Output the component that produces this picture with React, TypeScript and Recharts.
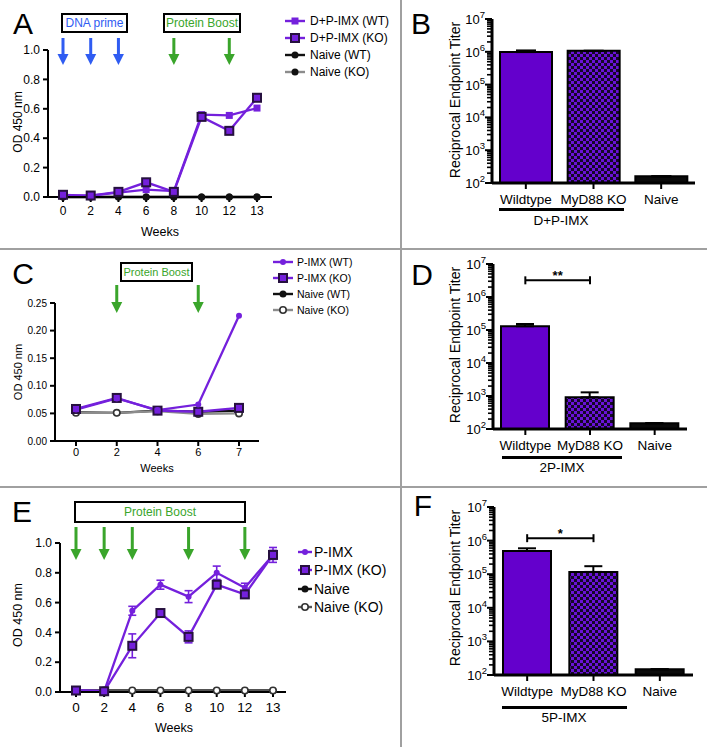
import React from 'react'
import { LineChart, Line, BarChart, Bar, Cell, XAxis, YAxis, ErrorBar, ReferenceDot, ReferenceLine } from 'recharts'

const FONT = '"Liberation Sans", Arial, Helvetica, sans-serif'
const PURPLE = '#7420dc'
const BAR_PURPLE = '#6400cc'
const DARK = '#26103f'
const GRAY = '#8c8c8c'
const BLUE = '#2f5cf2'
const GREEN = '#3aa52b'

// ---- A: D+P-IMX time course
const WEEKS_A = ['0', '2', '4', '6', '8', '10', '12', '13']
const A_DP_WT = [0.01, 0.01, 0.03, 0.05, 0.04, 0.56, 0.555, 0.605]
const A_DP_KO = [0.015, 0.01, 0.035, 0.1, 0.035, 0.545, 0.45, 0.675]
const A_NAIVE_WT = [0, 0, 0, 0, 0, 0, 0, 0]
const A_NAIVE_KO = [0, 0, 0, 0, 0, 0, 0, 0]
const A_PRIME_WEEKS = ['0', '2', '4']
const A_BOOST_WEEKS = ['8', '12']

// ---- C: P-IMX time course
const WEEKS_C = ['0', '2', '4', '6', '7']
const C_P_WT = [0.057, 0.077, 0.056, 0.066, 0.227]
const C_P_KO = [0.058, 0.078, 0.055, 0.053, 0.06]
const C_NAIVE_WT = [0.052, 0.051, 0.055, 0.053, 0.055]
const C_NAIVE_KO = [0.051, 0.051, 0.054, 0.049, 0.05]
const C_BOOST_WEEKS = ['2', '6']

// ---- E: 5x P-IMX time course
const WEEKS_E = ['0', '2', '4', '6', '8', '10', '12', '13']
const E_P_WT = [0.01, 0.005, 0.545, 0.72, 0.64, 0.8, 0.7, 0.92]
const E_P_WT_ERR = [0, 0, 0.03, 0.03, 0.04, 0.045, 0.03, 0.05]
const E_P_KO = [0.01, 0.005, 0.31, 0.53, 0.37, 0.72, 0.655, 0.92]
const E_P_KO_ERR = [0, 0, 0.08, 0.01, 0.04, 0.02, 0.01, 0.03]
const E_NAIVE_WT = [0.01, 0.01, 0.01, 0.01, 0.01, 0.01, 0.01, 0.01]
const E_NAIVE_KO = [0.01, 0.01, 0.01, 0.01, 0.01, 0.01, 0.01, 0.01]
const E_BOOST_WEEKS = ['0', '2', '4', '8', '12']

// ---- B, D, F: endpoint titers
const GROUPS = ['Wildtype', 'MyD88 KO', 'Naive']
const B_TITER = [9.8e5, 1.07e6, 160]
const B_ERR = [1.2e5, 0, 0]
const D_TITER = [1.3e5, 910, 150]
const D_ERR = [2.2e4, 380, 0]
const F_TITER = [4.9e5, 1.17e5, 148]
const F_ERR = [1e5, 5.6e4, 0]
const LOG_DECADES = [2, 3, 4, 5, 6]
const LOG_MULTS = [1, 2, 3, 4, 5, 6, 7, 8, 9]
const LOG_TICKS = [...LOG_DECADES.flatMap((e) => LOG_MULTS.map((m) => m * 10 ** e)), 1e7]

const BAR_FILLS = [BAR_PURPLE, 'url(#checker)', '#0a0a0a']

type MarkerKind = 'smallSquare' | 'square' | 'circle' | 'black' | 'open'
type Series = { key: string; name: string; line: string; marker: MarkerKind; errKey?: string }

const A_SERIES: Series[] = [
  { key: 'nko', name: 'Naive (KO)', line: GRAY, marker: 'black' },
  { key: 'nwt', name: 'Naive (WT)', line: '#111', marker: 'black' },
  { key: 'wt', name: 'D+P-IMX (WT)', line: PURPLE, marker: 'smallSquare' },
  { key: 'ko', name: 'D+P-IMX (KO)', line: PURPLE, marker: 'square' },
]
const C_SERIES: Series[] = [
  { key: 'nwt', name: 'Naive (WT)', line: '#111', marker: 'black' },
  { key: 'nko', name: 'Naive (KO)', line: GRAY, marker: 'open' },
  { key: 'ko', name: 'P-IMX (KO)', line: PURPLE, marker: 'square' },
  { key: 'wt', name: 'P-IMX (WT)', line: PURPLE, marker: 'circle' },
]
const E_SERIES: Series[] = [
  { key: 'nwt', name: 'Naive', line: '#111', marker: 'black' },
  { key: 'nko', name: 'Naive (KO)', line: '#555', marker: 'open' },
  { key: 'wt', name: 'P-IMX', line: PURPLE, marker: 'circle', errKey: 'wtErr' },
  { key: 'ko', name: 'P-IMX (KO)', line: PURPLE, marker: 'square', errKey: 'koErr' },
]

const legendOrder = (s: Series[]) => ['wt', 'ko', 'nwt', 'nko'].map((k) => s.find((x) => x.key === k) as Series)

function Marker({ kind, cx, cy }: { kind: MarkerKind; cx: number; cy: number }) {
  if (cx == null || cy == null) return null
  switch (kind) {
    case 'smallSquare':
      return <rect x={cx - 3.5} y={cy - 3.5} width={7} height={7} fill={PURPLE} />
    case 'square':
      return <rect x={cx - 4} y={cy - 4} width={8} height={8} fill={PURPLE} stroke={DARK} strokeWidth={2} />
    case 'circle':
      return <circle cx={cx} cy={cy} r={3} fill={PURPLE} />
    case 'black':
      return <circle cx={cx} cy={cy} r={3.5} fill="#111" />
    default:
      return <circle cx={cx} cy={cy} r={3.2} fill="#fff" stroke="#333" strokeWidth={1.6} />
  }
}

function Arrow({ cx, cy, up, down, color }: any) {
  const head = 11
  return (
    <g>
      <rect x={cx - 1.5} y={cy - up} width={3} height={up + down - head + 1} fill={color} />
      <polygon points={`${cx - 5.5},${cy + down - head} ${cx + 5.5},${cy + down - head} ${cx},${cy + down}`} fill={color} />
    </g>
  )
}

type ArrowSet = { weeks: string[]; y: number; up: number; down: number; color: string }

function TimeCourse(props: any) {
  const { width, height, margin, yWidth, padding, rows, series, yDomain, yTicks, digits, xFont, yFont, xTickMargin, arrows } = props
  const axisStroke = { stroke: '#000', strokeWidth: 2 }
  return (
    <LineChart width={width} height={height} data={rows} margin={margin}>
      <XAxis
        dataKey="week"
        type="category"
        scale="point"
        padding={padding}
        height={30}
        interval={0}
        tickSize={5}
        tickMargin={xTickMargin}
        axisLine={axisStroke}
        tickLine={axisStroke}
        tick={{ fill: '#000', fontSize: xFont, fontFamily: FONT }}
      />
      <YAxis
        type="number"
        width={yWidth}
        domain={yDomain}
        ticks={yTicks}
        interval={0}
        tickSize={5}
        tickMargin={3}
        tickFormatter={(v: number) => v.toFixed(digits)}
        axisLine={axisStroke}
        tickLine={axisStroke}
        tick={{ fill: '#000', fontSize: yFont, fontFamily: FONT }}
      />
      {series.map((s: Series) => (
        <Line
          key={s.key}
          dataKey={s.key}
          stroke={s.line}
          strokeWidth={2.3}
          isAnimationActive={false}
          activeDot={false}
          dot={(p: any) => <Marker key={`${s.key}-${p.index}`} kind={s.marker} cx={p.cx} cy={p.cy} />}
        >
          {s.errKey ? <ErrorBar dataKey={s.errKey} width={4} stroke={s.line} strokeWidth={1.6} direction="y" /> : null}
        </Line>
      ))}
      {arrows.flatMap((a: ArrowSet) =>
        a.weeks.map((w) => (
          <ReferenceDot
            key={`${a.color}-${w}`}
            x={w}
            y={a.y}
            r={0}
            ifOverflow="visible"
            shape={(p: any) => <Arrow cx={p.cx} cy={p.cy} up={a.up} down={a.down} color={a.color} />}
          />
        ))
      )}
    </LineChart>
  )
}

function LogTick(props: any) {
  const { x, y, payload } = props
  const exp = Math.log10(payload.value)
  const major = Math.abs(exp - Math.round(exp)) < 1e-6
  return (
    <g>
      <line x1={x - (major ? 7 : 5)} x2={x} y1={y} y2={y} stroke="#000" strokeWidth={major ? 2 : 1.6} />
      {major && (
        <text x={x - 7} y={y + 5} textAnchor="end" fontSize={13} fontFamily={FONT} fill="#000">
          10
          <tspan dy={-6} fontSize={9.5}>
            {Math.round(exp)}
          </tspan>
        </text>
      )}
    </g>
  )
}

function Bracket({ x1, y1, x2, stars }: any) {
  return (
    <g>
      <line x1={x1} y1={y1} x2={x2} y2={y1} stroke="#000" strokeWidth={2} />
      <line x1={x1} y1={y1 - 4} x2={x1} y2={y1 + 4} stroke="#000" strokeWidth={2} />
      <line x1={x2} y1={y1 - 4} x2={x2} y2={y1 + 4} stroke="#000" strokeWidth={2} />
      <text x={(x1 + x2) / 2} y={y1} textAnchor="middle" fontSize={13} fontWeight="bold" fontFamily={FONT} fill="#000">
        {stars}
      </text>
    </g>
  )
}

function TiterBars(props: any) {
  const { width, height, margin, yWidth, rows, barSize, capWidth, bracket } = props
  const axisStroke = { stroke: '#000', strokeWidth: 2 }
  return (
    <BarChart width={width} height={height} data={rows} margin={margin}>
      <XAxis
        dataKey="group"
        height={30}
        interval={0}
        tickSize={6}
        tickMargin={5}
        axisLine={{ stroke: '#000', strokeWidth: 3 }}
        tickLine={axisStroke}
        tick={{ fill: '#000', fontSize: 13.5, fontFamily: FONT }}
      />
      <YAxis
        type="number"
        scale="log"
        domain={[100, 1e7]}
        allowDataOverflow
        ticks={LOG_TICKS}
        interval={0}
        width={yWidth}
        tickSize={0}
        tickMargin={0}
        tickLine={false}
        axisLine={{ stroke: '#000', strokeWidth: 3 }}
        tick={(p: any) => <LogTick {...p} />}
      />
      <Bar dataKey="titer" barSize={barSize} stroke="#000" strokeWidth={2} isAnimationActive={false}>
        {rows.map((r: any, i: number) => (
          <Cell key={r.group} fill={BAR_FILLS[i]} />
        ))}
        <ErrorBar dataKey="err" width={capWidth} stroke="#000" strokeWidth={2} direction="y" />
      </Bar>
      {bracket && (
        <ReferenceLine
          segment={[
            { x: GROUPS[0], y: bracket.y },
            { x: GROUPS[1], y: bracket.y },
          ]}
          ifOverflow="visible"
          shape={(p: any) => <Bracket {...p} stars={bracket.stars} />}
        />
      )}
    </BarChart>
  )
}

function Txt({ x, y, size, color = '#000', rotate, children }: any) {
  return (
    <div
      style={{
        position: 'absolute',
        left: x,
        top: y,
        transform: `translate(-50%, -50%)${rotate ? ` rotate(${rotate}deg)` : ''}`,
        fontSize: size,
        lineHeight: 1,
        color,
        whiteSpace: 'nowrap',
      }}
    >
      {children}
    </div>
  )
}

function Box({ left, top, width, height, size, color, children }: any) {
  return (
    <div
      style={{
        position: 'absolute',
        left,
        top,
        width,
        height,
        boxSizing: 'border-box',
        border: '2px solid #000',
        display: 'flex',
        alignItems: 'center',
        justifyContent: 'center',
        fontSize: size,
        color,
        whiteSpace: 'nowrap',
        background: '#fff',
      }}
    >
      {children}
    </div>
  )
}

function SeriesLegend({ items, x, y, dy, size, iconW, gap }: any) {
  return (
    <>
      {items.map((s: Series, i: number) => (
        <div
          key={s.key}
          style={{
            position: 'absolute',
            left: x,
            top: y + i * dy,
            transform: 'translateY(-50%)',
            display: 'flex',
            alignItems: 'center',
            gap,
            fontSize: size,
            lineHeight: 1,
            whiteSpace: 'nowrap',
          }}
        >
          <svg width={iconW} height={12} style={{ display: 'block' }}>
            <line x1={0} x2={iconW} y1={6} y2={6} stroke={s.line} strokeWidth={2.4} />
            <Marker kind={s.marker} cx={iconW / 2} cy={6} />
          </svg>
          <span>{s.name}</span>
        </div>
      ))}
    </>
  )
}

function Underline({ left, right, y }: any) {
  return <div style={{ position: 'absolute', left, top: y - 1.5, width: right - left, height: 3, background: '#000' }} />
}

function Place({ left, top, children }: any) {
  return <div style={{ position: 'absolute', left, top }}>{children}</div>
}

export default function App() {
  const aRows = WEEKS_A.map((week, i) => ({ week, wt: A_DP_WT[i], ko: A_DP_KO[i], nwt: A_NAIVE_WT[i], nko: A_NAIVE_KO[i] }))
  const cRows = WEEKS_C.map((week, i) => ({ week, wt: C_P_WT[i], ko: C_P_KO[i], nwt: C_NAIVE_WT[i], nko: C_NAIVE_KO[i] }))
  const eRows = WEEKS_E.map((week, i) => ({
    week,
    wt: E_P_WT[i],
    wtErr: E_P_WT_ERR[i],
    ko: E_P_KO[i],
    koErr: E_P_KO_ERR[i],
    nwt: E_NAIVE_WT[i],
    nko: E_NAIVE_KO[i],
  }))
  const bRows = GROUPS.map((group, i) => ({ group, titer: B_TITER[i], err: [0, B_ERR[i]] }))
  const dRows = GROUPS.map((group, i) => ({ group, titer: D_TITER[i], err: [0, D_ERR[i]] }))
  const fRows = GROUPS.map((group, i) => ({ group, titer: F_TITER[i], err: [0, F_ERR[i]] }))

  return (
    <div
      style={{
        position: 'absolute',
        left: 0,
        top: 0,
        width: 707,
        height: 747,
        overflow: 'hidden',
        background: '#fff',
        fontFamily: FONT,
        color: '#000',
      }}
    >
      <svg width={0} height={0} style={{ position: 'absolute' }}>
        <defs>
          <pattern id="checker" width={6} height={6} patternUnits="userSpaceOnUse">
            <rect width={6} height={6} fill="#150828" />
            <rect width={3} height={3} fill="#6a12d8" />
            <rect x={3} y={3} width={3} height={3} fill="#6a12d8" />
          </pattern>
        </defs>
      </svg>

      {/* dividers */}
      <div style={{ position: 'absolute', left: 400, top: 0, width: 1.5, height: 747, background: '#a0a0a0' }} />
      <div style={{ position: 'absolute', left: 0, top: 248, width: 707, height: 1.5, background: '#a0a0a0' }} />
      <div style={{ position: 'absolute', left: 0, top: 486, width: 707, height: 1.5, background: '#a0a0a0' }} />

      {/* A */}
      <Place left={0} top={0}>
        <TimeCourse
          width={400}
          height={248}
          margin={{ top: 50, right: 128, bottom: 21, left: 8 }}
          yWidth={40}
          padding={{ left: 15, right: 15 }}
          rows={aRows}
          series={A_SERIES}
          yDomain={[0, 1]}
          yTicks={[0, 0.2, 0.4, 0.6, 0.8, 1.0]}
          digits={1}
          xFont={12}
          yFont={12}
          xTickMargin={4}
          arrows={[
            { weeks: A_PRIME_WEEKS, y: 1, up: 12, down: 15, color: BLUE },
            { weeks: A_BOOST_WEEKS, y: 1, up: 12, down: 15, color: GREEN },
          ]}
        />
      </Place>
      <Txt x={23} y={24} size={30}>A</Txt>
      <Box left={61} top={13} width={67} height={20} size={12} color={BLUE}>DNA prime</Box>
      <Box left={163} top={13} width={78} height={20} size={12} color={GREEN}>Protein Boost</Box>
      <Txt x={18} y={122} size={12} rotate={-90}>OD 450 nm</Txt>
      <Txt x={160} y={232} size={12.5}>Weeks</Txt>
      <SeriesLegend items={legendOrder(A_SERIES)} x={285} y={21} dy={17} size={12} iconW={20} gap={5} />

      {/* B */}
      <Place left={400} top={0}>
        <TiterBars
          width={307}
          height={248}
          margin={{ top: 19, right: 12, bottom: 35, left: 0 }}
          yWidth={92}
          rows={bRows}
          barSize={52}
          capWidth={10}
        />
      </Place>
      <Txt x={421} y={24} size={30}>B</Txt>
      <Txt x={455} y={100} size={14} rotate={-90}>Reciprocal Endpoint Titer</Txt>
      <Underline left={499} right={624} y={209.5} />
      <Txt x={561} y={221} size={13.5}>D+P-IMX</Txt>

      {/* C */}
      <Place left={0} top={249}>
        <TimeCourse
          width={400}
          height={237}
          margin={{ top: 54, right: 141, bottom: 15, left: 8 }}
          yWidth={47}
          padding={{ left: 21, right: 20 }}
          rows={cRows}
          series={C_SERIES}
          yDomain={[0, 0.25]}
          yTicks={[0, 0.05, 0.1, 0.15, 0.2, 0.25]}
          digits={2}
          xFont={11}
          yFont={10}
          xTickMargin={2}
          arrows={[{ weeks: C_BOOST_WEEKS, y: 0.25, up: 18, down: 10, color: GREEN }]}
        />
      </Place>
      <Txt x={23} y={274} size={30}>C</Txt>
      <Box left={120} top={262} width={73} height={20} size={11} color={GREEN}>Protein Boost</Box>
      <Txt x={18} y={372} size={11} rotate={-90}>OD 450 nm</Txt>
      <Txt x={157} y={468} size={11}>Weeks</Txt>
      <SeriesLegend items={legendOrder(C_SERIES)} x={273} y={262} dy={16} size={10.5} iconW={20} gap={4} />

      {/* D */}
      <Place left={400} top={249}>
        <TiterBars
          width={307}
          height={237}
          margin={{ top: 15, right: 20, bottom: 27, left: 0 }}
          yWidth={93}
          rows={dRows}
          barSize={48}
          capWidth={9}
          bracket={{ y: 3.2e6, stars: '**' }}
        />
      </Place>
      <Txt x={422} y={275} size={30}>D</Txt>
      <Txt x={455} y={345} size={14} rotate={-90}>Reciprocal Endpoint Titer</Txt>
      <Underline left={502} right={622} y={457.5} />
      <Txt x={562} y={468} size={13.5}>2P-IMX</Txt>

      {/* E */}
      <Place left={0} top={486}>
        <TimeCourse
          width={400}
          height={261}
          margin={{ top: 57, right: 114, bottom: 25, left: 8 }}
          yWidth={52}
          padding={{ left: 16, right: 13 }}
          rows={eRows}
          series={E_SERIES}
          yDomain={[0, 1]}
          yTicks={[0, 0.2, 0.4, 0.6, 0.8, 1.0]}
          digits={1}
          xFont={13.5}
          yFont={12}
          xTickMargin={5}
          arrows={[{ weeks: E_BOOST_WEEKS, y: 1, up: 16, down: 17, color: GREEN }]}
        />
      </Place>
      <Txt x={22} y={512} size={30}>E</Txt>
      <Box left={74} top={501} width={172} height={22} size={12} color={GREEN}>Protein Boost</Box>
      <Txt x={18} y={615} size={12.5} rotate={-90}>OD 450 nm</Txt>
      <Txt x={174} y={728} size={12.5}>Weeks</Txt>
      <SeriesLegend items={legendOrder(E_SERIES)} x={298} y={552} dy={18.3} size={14} iconW={14} gap={2} />

      {/* F */}
      <Place left={400} top={486}>
        <TiterBars
          width={307}
          height={261}
          margin={{ top: 21, right: 14, bottom: 42, left: 0 }}
          yWidth={94}
          rows={fRows}
          barSize={48}
          capWidth={9}
          bracket={{ y: 1.18e6, stars: '*' }}
        />
      </Place>
      <Txt x={423} y={506} size={30}>F</Txt>
      <Txt x={455} y={588} size={14} rotate={-90}>Reciprocal Endpoint Titer</Txt>
      <Underline left={502} right={627} y={707.5} />
      <Txt x={564} y={718} size={13.5}>5P-IMX</Txt>
    </div>
  )
}
